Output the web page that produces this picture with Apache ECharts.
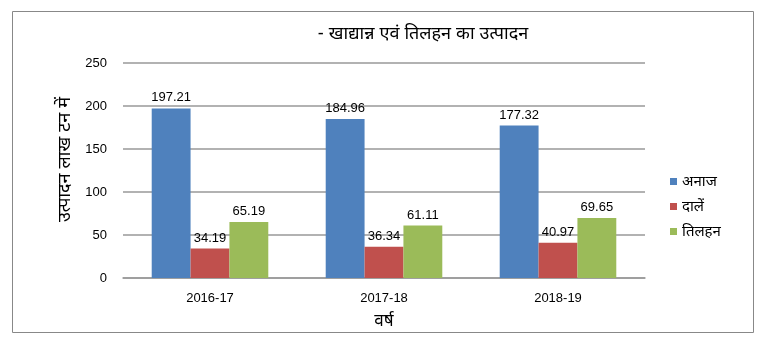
<!DOCTYPE html>
<html><head><meta charset="utf-8">
<script src="https://cdn.jsdelivr.net/npm/echarts@6/dist/echarts.min.js"></script>
<style>html,body{margin:0;padding:0;background:#fff}#c{width:772px;height:347px}</style>
</head><body><div id="c"></div>
<script>
const categories = ['2016-17', '2017-18', '2018-19'];
const seriesNames = ['अनाज', 'दालें', 'तिलहन'];
const anaj = [197.21, 184.96, 177.32];
const dalen = [34.19, 36.34, 40.97];
const tilhan = [65.19, 61.11, 69.65];
const yTicks = [0, 50, 100, 150, 200, 250];
const colors = ['#4F81BD', '#C0504D', '#9BBB59'];
const FONT = 'Liberation Sans, Noto Sans, sans-serif';

const chart = echarts.init(document.getElementById('c'), null, {renderer: 'canvas'});
const lbl = {show: true, position: 'top', color: '#000', fontSize: 13, fontFamily: FONT, distance: 4};
chart.setOption({
  animation: false,
  graphic: [{type: 'rect', shape: {x: 12.5, y: 11.5, width: 741, height: 321}, style: {fill: 'none', stroke: '#888', lineWidth: 1}}],
  title: {text: '- खाद्यान्न एवं तिलहन का उत्पादन', left: 418, top: 20, textAlign: 'center',
    textStyle: {fontSize: 18, fontWeight: 'normal', color: '#000', fontFamily: FONT}},
  legend: {orient: 'vertical', left: 665, top: 169, itemWidth: 7, itemHeight: 7, itemGap: 10, icon: 'rect',
    textStyle: {fontSize: 15, color: '#000', fontFamily: FONT}, data: seriesNames},
  grid: {left: 123, right: 772 - 645, top: 63, bottom: 347 - 278, containLabel: false},
  xAxis: {type: 'category', data: categories, name: 'वर्ष', nameLocation: 'middle', nameGap: 35,
    nameTextStyle: {fontSize: 17, fontWeight: 'normal', color: '#000', fontFamily: FONT},
    axisTick: {show: false}, axisLine: {lineStyle: {color: '#999', width: 1.5}},
    axisLabel: {color: '#000', fontSize: 13, margin: 14, fontFamily: FONT}},
  yAxis: {type: 'value', min: 0, max: 250, interval: 50, name: 'उत्पादन लाख टन में', nameLocation: 'middle', nameGap: 46,
    nameTextStyle: {fontSize: 18, fontWeight: 'normal', color: '#000', fontFamily: FONT, padding: [0, 0, 0, 22]},
    axisLine: {show: false}, axisTick: {show: false},
    axisLabel: {color: '#000', fontSize: 13, margin: 16, fontFamily: FONT,
      formatter: v => yTicks.includes(v) ? String(v) : ''},
    splitLine: {lineStyle: {color: '#999', width: 1.5}}},
  series: [
    {name: seriesNames[0], type: 'bar', data: anaj, barGap: '0%', barCategoryGap: '33%', itemStyle: {color: colors[0]}, label: lbl},
    {name: seriesNames[1], type: 'bar', data: dalen, itemStyle: {color: colors[1]}, label: lbl},
    {name: seriesNames[2], type: 'bar', data: tilhan, itemStyle: {color: colors[2]}, label: lbl}
  ]
});
</script></body></html>
